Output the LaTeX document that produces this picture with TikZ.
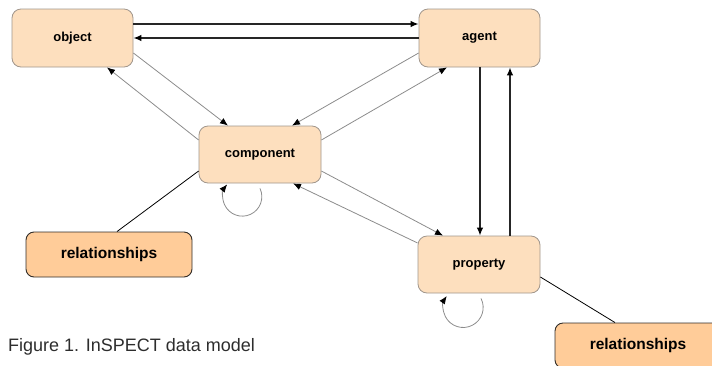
\documentclass[tikz,border=0pt]{standalone}
\usepackage{fontspec}
\setmainfont{Liberation Sans}
\usetikzlibrary{arrows.meta}
\definecolor{boxfill}{RGB}{253,223,190}
\definecolor{boxline}{RGB}{160,150,140}
\definecolor{relfill}{RGB}{255,204,153}
\definecolor{relline}{RGB}{50,45,40}
\definecolor{thinline}{RGB}{140,140,140}
\definecolor{capgray}{RGB}{45,45,45}
\tikzset{
  entity/.style={draw=boxline, fill=boxfill, rounded corners=9pt, line width=0.8pt,
    minimum width=121pt, minimum height=58pt, inner sep=0pt,
    font=\fontsize{13}{15}\selectfont\bfseries},
  relbox/.style={draw=relline, fill=relfill, rounded corners=8pt, line width=0.9pt,
    minimum width=166pt, minimum height=45pt, inner sep=0pt,
    font=\fontsize{15.5}{18}\selectfont\bfseries},
  tip/.style={-{Latex[length=8pt,width=6.5pt,color=black]}},
  strong/.style={tip, draw=black!85, line width=1.3pt},
  weak/.style={tip, draw=thinline, line width=0.8pt},
  link/.style={draw=black, line width=0.8pt},
}
\begin{document}
\begin{tikzpicture}[x=1pt, y=-1pt]
  \useasboundingbox (0,0) rectangle (712,365);
  \clip (0,0) rectangle (712,365);

  % entities
  \node[entity] (obj)   at (72.5,38)  {object};
  \node[entity] (agent) at (479.5,38) {agent};
  \node[entity, minimum width=122pt, minimum height=57pt] (comp) at (260,154.5) {component};
  \node[entity, minimum width=122pt, minimum height=57pt] (prop) at (479,264.5) {property};

  % relationship boxes
  \node[relbox] (rel1) at (109,254.5) {relationships};
  \node[relbox] (rel2) at (638,345.5) {relationships};

  % object <-> agent
  \draw[strong] ([yshift=14pt]obj.east) -- ([yshift=14pt]agent.west);
  \draw[strong] (agent.west) -- (obj.east);

  % object <-> component
  \draw[weak] ([yshift=-15pt]obj.east) -- ([xshift=-32pt]comp.north);
  \draw[weak] ([yshift=14.5pt]comp.west) -- ([xshift=34.5pt]obj.south);

  % agent <-> component
  \draw[weak] ([yshift=-15pt]agent.west) -- ([xshift=32pt]comp.north);
  \draw[weak] ([yshift=14.5pt]comp.east) -- ([xshift=-32.5pt]agent.south);

  % agent <-> property
  \draw[strong] ([xshift=0.5pt]agent.south) -- ([xshift=0.5pt]agent.south |- prop.north);
  \draw[strong] ([xshift=31pt]prop.north) -- ([xshift=31pt]prop.north |- agent.south);

  % component <-> property
  \draw[weak] ([yshift=-16.5pt]comp.east) -- ([xshift=-36pt]prop.north);
  \draw[weak] ([yshift=21.5pt]prop.west) -- ([xshift=33pt]comp.south);

  % self loops
  \draw[weak] ([yshift=-5pt]comp.south) arc[start angle=25, end angle=-219, radius=19.5pt];
  \draw[weak] ([xshift=2pt,yshift=-5pt]prop.south) arc[start angle=27, end angle=-215, radius=20pt];

  % relationship links
  \draw[link] ([yshift=-16.5pt]comp.west) -- ([xshift=8pt]rel1.north);
  \draw[link] ([yshift=-12.5pt]prop.east) -- ([xshift=-23pt]rel2.north);

  % caption
  \node[anchor=base west, inner sep=0pt, text=capgray, font=\fontsize{18}{21}\selectfont]
    (caption) at (8,351) {Figure 1. InSPECT data model};
\end{tikzpicture}
\end{document}
